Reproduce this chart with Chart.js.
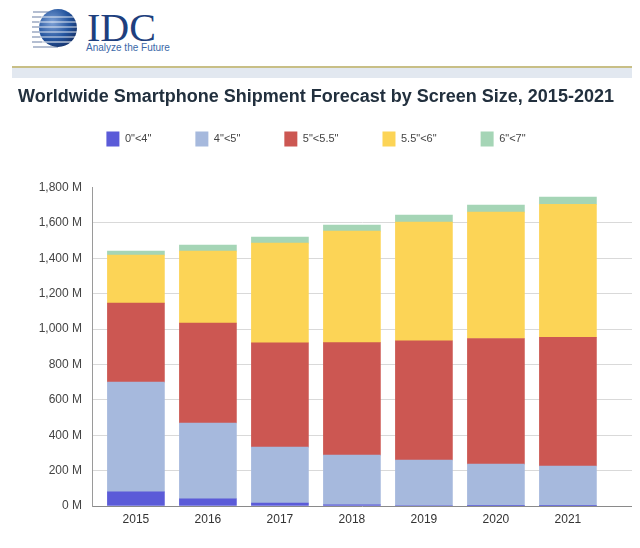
<!DOCTYPE html>
<html>
<head>
    <title>Worldwide Smartphone Shipment Forecast</title>
    <script src="https://cdn.jsdelivr.net/npm/chart.js"></script>
    <style>
        body { margin: 0; background: #fff; font-family: "Liberation Sans", Arial, sans-serif; }
        .wrap { position: relative; width: 640px; height: 548px; overflow: hidden; }
        #logo { position: absolute; left: 20px; top: 4px; }
        .rule { position: absolute; left: 12px; width: 620px; }
        #chartBox { position: absolute; left: 0; top: 0; width: 640px; height: 548px; }
    </style>
</head>
<body>
<div class="wrap">
    <svg id="logo" width="170" height="52" viewBox="0 0 170 52">
        <defs>
            <radialGradient id="globe" cx="0.35" cy="0.35" r="0.75">
                <stop offset="0" stop-color="#7fa2d6"/>
                <stop offset="0.6" stop-color="#23549e"/>
                <stop offset="1" stop-color="#142f66"/>
            </radialGradient>
        </defs>
        <g stroke="#8c9bb8" stroke-width="1.3">
            <line x1="13" y1="8" x2="38" y2="8"/>
            <line x1="12" y1="13" x2="36" y2="13"/>
            <line x1="12" y1="18" x2="34" y2="18"/>
            <line x1="12" y1="23" x2="34" y2="23"/>
            <line x1="12" y1="28" x2="34" y2="28"/>
            <line x1="12" y1="33" x2="34" y2="33"/>
            <line x1="12" y1="38" x2="36" y2="38"/>
            <line x1="13" y1="43" x2="38" y2="43"/>
        </g>
        <circle cx="38" cy="24" r="19" fill="url(#globe)"/>
        <g stroke="#ffffff" stroke-width="1.2" opacity="0.85">
            <line x1="21" y1="13" x2="55" y2="13"/>
            <line x1="19" y1="18" x2="57" y2="18"/>
            <line x1="19" y1="23" x2="57" y2="23"/>
            <line x1="19" y1="28" x2="57" y2="28"/>
            <line x1="20" y1="33" x2="56" y2="33"/>
            <line x1="22" y1="38" x2="54" y2="38"/>
        </g>
        <text x="67" y="37" font-family="'Liberation Serif', 'DejaVu Serif', serif" font-size="40" fill="#1e3f7e">IDC</text>
        <text x="66" y="47" font-family="'Liberation Sans', Arial, sans-serif" font-size="10" fill="#3b68a8">Analyze the Future</text>
    </svg>
    <div class="rule" style="top:66px;height:2px;background:#c8bf86;"></div>
    <div class="rule" style="top:68px;height:10px;background:#e2e8f0;"></div>
    <div id="chartBox"><canvas id="shipChart" width="640" height="548"></canvas></div>
</div>

<script>
    // data, millions of units
    const years = ['2015', '2016', '2017', '2018', '2019', '2020', '2021'];
    const seriesNames = ['0"<4"', '4"<5"', '5"<5.5"', '5.5"<6"', '6"<7"'];
    const size0to4 = [80, 41, 17, 6, 3, 2, 1];
    const size4to5 = [620, 428, 316, 282, 257, 235, 225];
    const size5to55 = [447, 565, 589, 636, 674, 710, 727];
    const size55to6 = [271, 407, 564, 630, 671, 714, 753];
    const size6to7 = [23, 34, 34, 34, 39, 40, 40];
    const yMax = 1800;
    const yStep = 200;

    const colors = ['#5b5bd8', '#a6b9dd', '#cc5752', '#fcd456', '#a5d5b6'];
    const allSeries = [size0to4, size4to5, size5to55, size55to6, size6to7];

    const datasets = allSeries.map((vals, i) => ({
        label: seriesNames[i],
        data: vals.map((v, j) => ({ x: j, y: v })),
        backgroundColor: colors[i],
        borderWidth: 0,
        barThickness: 57
    }));

    const font = "'Liberation Sans', Arial, sans-serif";

    // extra room under the legend
    const legendGap = {
        id: 'legendGap',
        beforeInit(chart) {
            const origFit = chart.legend.fit;
            chart.legend.fit = function () {
                origFit.bind(chart.legend)();
                this.height += 31;
            };
        }
    };

    new Chart(document.getElementById('shipChart'), {
        type: 'bar',
        data: { datasets: datasets },
        plugins: [legendGap],
        options: {
            responsive: false,
            animation: false,
            layout: { padding: { left: 0, right: 8, top: 0, bottom: 12 } },
            plugins: {
                title: {
                    display: true,
                    text: 'Worldwide Smartphone Shipment Forecast by Screen Size, 2015-2021',
                    color: '#22303e',
                    font: { family: font, size: 18, weight: 'bold' },
                    padding: { top: 86, bottom: -20 }
                },
                legend: {
                    position: 'top',
                    labels: {
                        boxWidth: 13,
                        boxHeight: 15,
                        padding: 44,
                        color: '#444',
                        font: { family: font, size: 11 }
                    }
                },
                tooltip: { enabled: false }
            },
            scales: {
                x: {
                    type: 'linear',
                    stacked: true,
                    offset: false,
                    min: -0.61,
                    max: 6.89,
                    afterBuildTicks: (s) => { s.ticks = years.map((y, i) => ({ value: i })); },
                    afterFit: (s) => { s.height = 30; },
                    grid: { display: false, drawTicks: false, tickLength: 0 },
                    border: { display: false },
                    ticks: {
                        padding: 6,
                        color: '#333',
                        font: { family: font, size: 12 },
                        callback: (v) => years[v]
                    }
                },
                y: {
                    stacked: true,
                    min: 0,
                    max: yMax,
                    afterFit: (s) => { s.width = 92; },
                    border: { display: true, color: '#9a9a9a', width: 1 },
                    grid: {
                        drawTicks: false,
                        color: (c) => c.tick.value === 0 ? '#8a8a8a' : (c.tick.value === yMax ? 'rgba(0,0,0,0)' : '#d9d9d9')
                    },
                    ticks: {
                        stepSize: yStep,
                        padding: 10,
                        color: '#444',
                        font: { family: font, size: 12 },
                        callback: (v) => v.toLocaleString('en-US') + ' M'
                    }
                }
            }
        }
    });
</script>
</body>
</html>
